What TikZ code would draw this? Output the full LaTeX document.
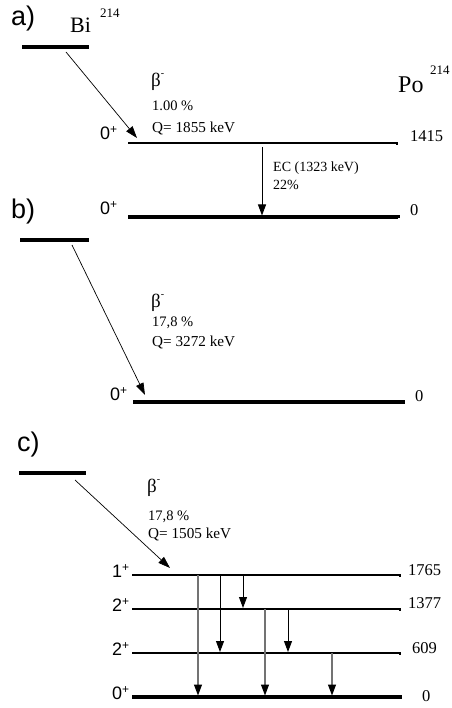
\documentclass[tikz,border=0pt]{standalone}
\usepackage{fontspec}
\setmainfont{Liberation Serif}
\newfontfamily\sflab{Liberation Sans}
\usetikzlibrary{arrows.meta}
\newcommand{\fsz}[1]{\fontsize{#1}{#1}\selectfont}
\newcommand{\jpi}[1]{{\sflab\fsz{18}#1\raisebox{6pt}{\fsz{12}+}}}
\newcommand{\betam}{{\fsz{19}β\raisebox{10pt}{\fsz{10}-}}}
\begin{document}
\begin{tikzpicture}[x=1pt,y=-1pt,
  txt/.style={anchor=base west, inner sep=0pt},
  small/.style={txt, font=\fsz{14.5}},
  qval/.style={txt, font=\fsz{15.2}},
  enr/.style={txt, font=\fsz{16.5}},
  panel/.style={txt, font=\sflab\fsz{27}},
  lvl/.style={line width=1.6pt},
  gnd/.style={line width=3.4pt},
  parent/.style={line width=3.6pt},
  betaarr/.style={-{Triangle[length=12pt,width=8pt]}, line width=0.7pt},
  gam/.style={-{Triangle[length=11pt,width=8pt]}, line width=0.9pt},
  gamg/.style={-{Triangle[length=11pt,width=8pt,color=black]}, line width=1.1pt, draw=black!55}]
\useasboundingbox (0,0) rectangle (451,708);

% ---------------- a) ----------------
\node[panel] (la) at (11,26) {a)};
\node[txt, font=\fsz{22}] (bi) at (70,33) {Bi};
\node[txt, font=\fsz{13}] (bisup) at (100,18) {214};
\node[txt, font=\fsz{24}] (po) at (398,93) {Po};
\node[txt, font=\fsz{13}] (posup) at (430,75) {214};
\draw[parent] (22,47) coordinate (aP1) -- (89,47) coordinate (aP2);
\draw[lvl] (128,143) coordinate (aL1) -- (397,143) coordinate (aL2) -- ++(0,2);
\draw[gnd] (128,217) coordinate (aG1) -- (398,217) coordinate (aG2) -- ++(0,1.5);
\coordinate (aS) at (66,52);
\coordinate (aT) at (137,138);
\draw[betaarr] (aS) -- (aT);
\node[txt] (ab) at (151,87) {\betam};
\node[small] (ar) at (152,111) {1.00 \%};
\node[qval] (aq) at (152,133) {Q= 1855 keV};
\node[txt] (aj1) at (100,140) {\jpi{0}};
\node[enr] (ae1) at (410,142) {1415};
\coordinate (ecS) at (262,147);
\coordinate (ecT) at (262,215.5);
\draw[gam] (ecS) -- (ecT);
\node[txt, font=\fsz{14}] (ec) at (273,172) {EC (1323 keV)};
\node[txt, font=\fsz{14}] (ecp) at (273,190) {22\%};
\node[txt] (aj0) at (100,215) {\jpi{0}};
\node[enr] (ae0) at (410,216) {0};

% ---------------- b) ----------------
\node[panel] (lb) at (11,219) {b)};
\draw[parent] (20,240) coordinate (bP1) -- (89,240) coordinate (bP2);
\draw[gnd] (133,402) coordinate (bG1) -- (403,402) coordinate (bG2) -- ++(0,1.5);
\coordinate (bS) at (72,245);
\coordinate (bT) at (145,395);
\draw[betaarr] (bS) -- (bT);
\node[txt] (bb) at (151,307) {\betam};
\node[small] (br) at (152,326) {17,8 \%};
\node[qval] (bq) at (152,346) {Q= 3272 keV};
\node[txt] (bj0) at (110,400) {\jpi{0}};
\node[enr] (be0) at (415,401) {0};

% ---------------- c) ----------------
\node[panel] (lc) at (17,451) {c)};
\draw[parent] (19,473) coordinate (cP1) -- (86,473) coordinate (cP2);
\draw[lvl] (132,575) coordinate (c1a) -- (400,575) coordinate (c1b) -- ++(0,2);
\draw[lvl] (132,609) coordinate (c2a) -- (400,609) coordinate (c2b) -- ++(0,2);
\draw[lvl] (132,653) coordinate (c3a) -- (400,653) coordinate (c3b) -- ++(0,2);
\draw[gnd] (132,697) coordinate (c4a) -- (400,697) coordinate (c4b) -- ++(0,1.5);
\coordinate (cS) at (75,480);
\coordinate (cT) at (170,568);
\draw[betaarr] (cS) -- (cT);
\node[txt] (cb) at (147,492) {\betam};
\node[small] (cr) at (148,520) {17,8 \%};
\node[qval] (cq) at (148,538) {Q= 1505 keV};
\node[txt] (cj1) at (112,577) {\jpi{1}};
\node[txt] (cj2) at (112,611) {\jpi{2}};
\node[txt] (cj3) at (112,655) {\jpi{2}};
\node[txt] (cj4) at (112,699) {\jpi{0}};
\node[enr] (ce1) at (408,575) {1765};
\node[enr] (ce2) at (408,608) {1377};
\node[enr] (ce3) at (412,653) {609};
\node[enr] (ce4) at (422,701) {0};
% gamma transitions
\draw[gamg] (198,575) coordinate (g1s) -- (198,695.5) coordinate (g1t);
\draw[gam]  (220,575) coordinate (g2s) -- (220,652) coordinate (g2t);
\draw[gam]  (243,575) coordinate (g3s) -- (243,608) coordinate (g3t);
\draw[gamg] (265,609) coordinate (g4s) -- (265,695.5) coordinate (g4t);
\draw[gam]  (288,609) coordinate (g5s) -- (288,652) coordinate (g5t);
\draw[gamg] (332,653) coordinate (g6s) -- (332,695.5) coordinate (g6t);
\end{tikzpicture}
\end{document}
